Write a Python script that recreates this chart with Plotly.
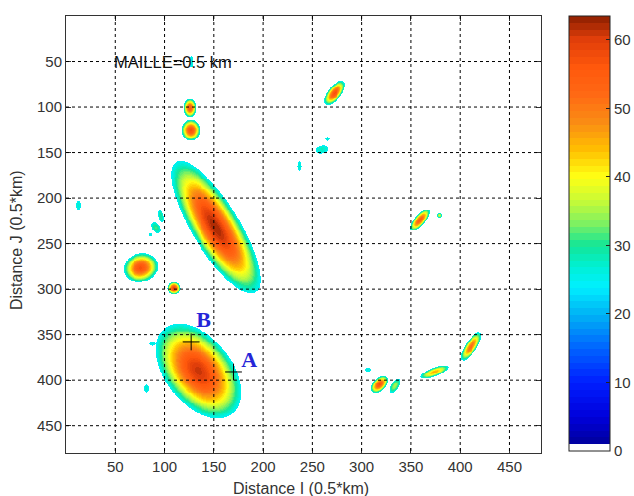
import numpy as np
import plotly.graph_objects as go

# ---- field data: elliptical cells (centre, semi-axes in grid units, tilt deg, peak value)
BLOB_X     = [152, 134.5, 125.5, 126.5, 127, 272.5, 259.5, 265, 237, 359.5, 379, 76, 109.5, 91.5, 96.5, 86, 13, 82, 88, 318, 333.5, 306.5, 374, 411]
BLOB_Y     = [232, 390, 101, 125.5, 50, 84.5, 146.5, 135, 165, 224, 219, 276.5, 299, 232.5, 220, 240, 208, 409, 360, 404.5, 406, 388.5, 391, 363]
BLOB_A     = [82, 58, 10, 11.5, 6, 15.5, 6.5, 2, 5, 14.5, 2.5, 18, 7, 6.5, 7, 1.8, 4.5, 4, 3, 11, 8.5, 3.5, 15, 17.5]
BLOB_B     = [24.5, 34.5, 6.5, 9.5, 2, 7, 4.5, 2, 2, 5.5, 2.5, 15.5, 6.5, 4, 2.5, 1.8, 2.5, 2.5, 2, 6.5, 4, 2, 4.5, 6]
BLOB_ANGLE = [61, 56, 90, 90, 90, -53, -15, 0, 90, -52, 0, -20, 90, 60, 80, 0, 90, 90, 0, -49, -60, 0, -22, -58]
BLOB_PEAK  = [62.5, 61, 56, 57, 27, 57, 28, 27, 27, 55, 38, 57, 59, 31, 30, 26, 27, 27, 26, 57, 35, 26, 45, 52]

EDGE = 24.5
N = 481
X_TICKS = [50, 100, 150, 200, 250, 300, 350, 400, 450]
Y_TICKS = [50, 100, 150, 200, 250, 300, 350, 400, 450]
CB_TICKS = [0, 10, 20, 30, 40, 50, 60]

POINT_NAMES = ["B", "A"]
POINT_X = [127, 170]
POINT_Y = [358, 391]
LABEL_X = [139.5, 186]
LABEL_Y = [336, 380]

# colour map anchors (value, rgb)
CMAP_V = [0, 5, 10, 15, 20, 24, 27, 30, 33, 36, 40, 44, 48, 52, 56, 60, 63.5]
CMAP_C = [(0, 0, 140), (0, 0, 220), (0, 30, 255), (0, 100, 255), (0, 180, 245), (0, 240, 255),
          (0, 240, 210), (20, 230, 150), (120, 240, 100), (190, 250, 60), (255, 255, 20),
          (255, 190, 0), (250, 140, 20), (255, 105, 20), (255, 88, 12), (225, 62, 10), (140, 30, 0)]

# ---- build grid
xs = np.arange(1, N + 1)
ys = np.arange(1, N + 1)
GX, GY = np.meshgrid(xs, ys)
Z = np.zeros((N, N), dtype=np.float32)
for cx, cy, a, b, ang, pk in zip(BLOB_X, BLOB_Y, BLOB_A, BLOB_B, BLOB_ANGLE, BLOB_PEAK):
    t = np.deg2rad(ang)
    dx = GX - cx
    dy = GY - cy
    u = dx * np.cos(t) + dy * np.sin(t)
    v = -dx * np.sin(t) + dy * np.cos(t)
    r2 = (u / a) ** 2 + (v / b) ** 2
    e = min(EDGE, pk - 1)
    val = pk * (e / pk) ** r2
    Z = np.where(r2 <= 1.0, np.maximum(Z, val), Z).astype(np.float32)

ZMAX = 63.5
NC = 64
cv = np.array(CMAP_V)
cc = np.array(CMAP_C, dtype=float)
cs = []
for i in range(NC):
    if i == 0:
        c = "rgb(255,255,255)"
    else:
        vmid = (i + 0.5) / NC * ZMAX
        rgb = [np.interp(vmid, cv, cc[:, k]) for k in range(3)]
        c = "rgb(%d,%d,%d)" % tuple(int(round(q)) for q in rgb)
    cs.append([i / NC, c])
    cs.append([(i + 1) / NC, c])

fig = go.Figure()
fig.add_trace(go.Heatmap(
    x=xs, y=ys, z=Z, colorscale=cs, zmin=0, zmax=ZMAX, zsmooth=False,
    hoverinfo="skip",
    colorbar=dict(
        x=(569 - 66) / 475, xanchor="left", xpad=0, xref="paper",
        y=1.0, yanchor="top", ypad=0, len=(451 - 16) / 437, lenmode="fraction",
        thickness=41, outlinewidth=1, outlinecolor="#222",
        tickvals=CB_TICKS, ticks="inside", ticklen=4, tickcolor="#222",
        tickfont=dict(family="Liberation Sans, Arial", size=15, color="#333"),
    ),
))

fig.add_trace(go.Scatter(
    x=POINT_X, y=POINT_Y, mode="markers",
    marker=dict(symbol="cross-thin", size=12, line=dict(width=1, color="black")),
    hoverinfo="skip", showlegend=False,
))
fig.add_trace(go.Scatter(
    x=LABEL_X, y=LABEL_Y, mode="text", text=["<b>%s</b>" % s for s in POINT_NAMES],
    textfont=dict(family="Liberation Serif, Times New Roman", size=22, color="#2525d8"),
    textposition="middle center", hoverinfo="skip", showlegend=False,
))

shapes = []
for xv in X_TICKS:
    shapes.append(dict(type="line", xref="x", yref="y", x0=xv, x1=xv, y0=0, y1=480,
                       line=dict(color="black", width=1, dash="3px,3px"), layer="above"))
for yv in Y_TICKS:
    shapes.append(dict(type="line", xref="x", yref="y", x0=0, x1=482, y0=yv, y1=yv,
                       line=dict(color="black", width=1, dash="3px,3px"), layer="above"))

axis_common = dict(
    showline=True, linecolor="#333", linewidth=1, mirror="ticks",
    ticks="inside", ticklen=5, tickcolor="#333", showgrid=False, zeroline=False,
    tickfont=dict(family="Liberation Sans, Arial", size=15, color="#333"),
)

W, H = 475, 437
fig.update_layout(
    width=634, height=496,
    margin=dict(l=66, r=93, t=16, b=43, autoexpand=False),
    paper_bgcolor="white", plot_bgcolor="white",
    xaxis=dict(range=[0, 482], tickvals=X_TICKS, **axis_common),
    yaxis=dict(range=[480, 0], tickvals=Y_TICKS, **axis_common),
    shapes=shapes,
    showlegend=False,
    annotations=[
        dict(x=47, y=50, xref="x", yref="y", text="MAILLE=0.5 km", showarrow=False,
             xanchor="left", yanchor="middle",
             font=dict(family="Liberation Sans, Arial", size=16.5, color="#111")),
        dict(x=(301 - 66) / W, y=1 - (488 - 16) / H, xref="paper", yref="paper",
             text="Distance I (0.5*km)", showarrow=False, xanchor="center", yanchor="middle",
             font=dict(family="Liberation Sans, Arial", size=16, color="#333")),
        dict(x=(16 - 66) / W, y=1 - (240 - 16) / H, xref="paper", yref="paper",
             text="Distance J (0.5*km)", showarrow=False, textangle=-90,
             xanchor="center", yanchor="middle",
             font=dict(family="Liberation Sans, Arial", size=16, color="#333")),
    ],
)

fig.write_html("out.html")
